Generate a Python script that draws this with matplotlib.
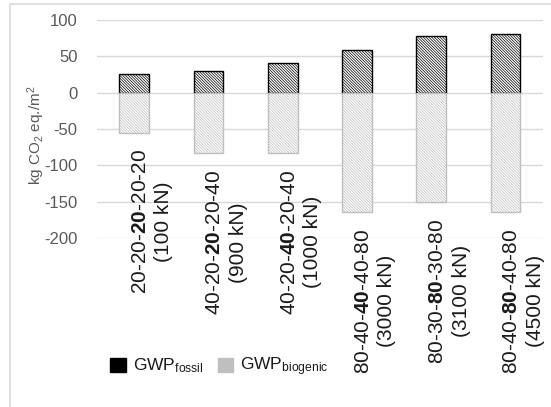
import numpy as np
import matplotlib
matplotlib.use('Agg')
import matplotlib.pyplot as plt
from matplotlib.patches import Patch, Rectangle

plt.rcParams['font.family'] = ['Liberation Sans', 'DejaVu Sans']
plt.rcParams['mathtext.fontset'] = 'custom'
plt.rcParams['mathtext.rm'] = 'Liberation Sans'
plt.rcParams['mathtext.it'] = 'Liberation Sans:italic'
plt.rcParams['mathtext.bf'] = 'Liberation Sans:bold'
plt.rcParams['hatch.linewidth'] = 0.5
plt.rcParams['axes.unicode_minus'] = False

# data
configs = ["20-20-$\\mathbf{20}$-20-20", "40-20-$\\mathbf{20}$-20-40",
           "40-20-$\\mathbf{40}$-20-40", "80-40-$\\mathbf{40}$-40-80",
           "80-30-$\\mathbf{80}$-30-80", "80-40-$\\mathbf{80}$-40-80"]
loads = ["(100 kN)", "(900 kN)", "(1000 kN)", "(3000 kN)", "(3100 kN)", "(4500 kN)"]
gwp_fossil = [25, 30, 41, 58, 78, 81]
gwp_biogenic = [-55, -83, -83, -164, -150, -164]

fig = plt.figure(figsize=(5.51, 4.07), dpi=100)
ax = fig.add_axes([0.176, 0.415, 0.809, 0.536])

# chart frame
fig.patches.append(Rectangle((0.019, -0.05), 1.0, 1.039, transform=fig.transFigure,
                             fill=False, edgecolor='#d9d9d9', linewidth=1.2))

x = np.arange(len(configs))
w = 0.4
hatch = '\\' * 12
ax.bar(x, gwp_fossil, w, color='white', edgecolor='black', hatch=hatch,
       linewidth=1.0, zorder=3)
ax.bar(x, gwp_biogenic, w, color='white', edgecolor='#bfbfbf', hatch=hatch,
       linewidth=1.0, zorder=3)

# category labels hang under each bar
for i in range(len(configs)):
    ax.annotate(configs[i] + "\n" + loads[i], (x[i], gwp_biogenic[i]),
                xytext=(13, -12), textcoords='offset points', rotation=90,
                rotation_mode='anchor', ha='right', va='center',
                multialignment='center', linespacing=1.3,
                fontsize=15, color='#1a1a1a', annotation_clip=False)

ax.set_ylim(-200, 100)
ax.set_xlim(-0.5, len(configs) - 0.5)
ax.set_yticks(np.arange(-200, 101, 50))
ax.set_xticks([])
ax.grid(axis='y', color='#d9d9d9', linewidth=1.0, zorder=0)
ax.tick_params(axis='y', length=0, labelsize=12, labelcolor='#595959', pad=14)
for s in ax.spines.values():
    s.set_visible(False)
ax.set_ylabel("kg CO$_2$ eq./m$^2$", fontsize=11, color='#595959')
ax.yaxis.set_label_coords(-0.112, 0.472)

handles = [Patch(facecolor='black', edgecolor='black'),
           Patch(facecolor='#bfbfbf', edgecolor='#bfbfbf')]
fig.legend(handles, ["GWP$_{\\mathrm{fossil}}$", "GWP$_{\\mathrm{biogenic}}$"],
           loc='center left', bbox_to_anchor=(0.172, 0.098), ncol=2, frameon=False,
           fontsize=12.5, handlelength=0.9, handleheight=0.9, handletextpad=0.4,
           columnspacing=0.8, labelcolor='#1a1a1a')

fig.savefig('out.png', dpi=100)
